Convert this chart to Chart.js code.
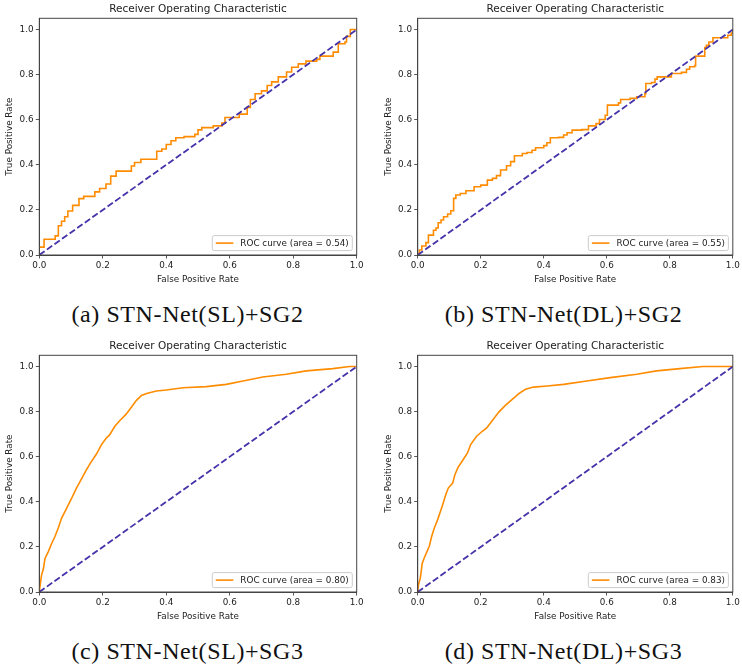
<!DOCTYPE html>
<html>
<head>
<meta charset="utf-8">
<script src="https://cdn.jsdelivr.net/npm/chart.js@4.4.0/dist/chart.umd.min.js"></script>
<style>
  html, body { margin: 0; padding: 0; background: #fff; }
  #page { position: relative; width: 742px; height: 670px; overflow: hidden; }
  .panel { position: absolute; }
  .caption {
    position: absolute; width: 371px; text-align: center;
    font-family: "Liberation Serif", serif; font-size: 24px; letter-spacing: 0.6px;
    line-height: 24px; color: #111;
  }
</style>
</head>
<body>
<div id="page">
  <canvas id="rocA" class="panel" width="371" height="290" style="left:0;top:0"></canvas>
  <canvas id="rocB" class="panel" width="371" height="290" style="left:371px;top:0"></canvas>
  <canvas id="rocC" class="panel" width="371" height="290" style="left:0;top:337px"></canvas>
  <canvas id="rocD" class="panel" width="371" height="290" style="left:371px;top:337px"></canvas>
  <div class="caption" style="left:2px;top:302px">(a) STN-Net(SL)+SG2</div>
  <div class="caption" style="left:378px;top:302px">(b) STN-Net(DL)+SG2</div>
  <div class="caption" style="left:2px;top:639px">(c) STN-Net(SL)+SG3</div>
  <div class="caption" style="left:378px;top:639px">(d) STN-Net(DL)+SG3</div>
</div>
<script>
// ROC points (false positive rate / true positive rate)
const fprA = [0, 0.015, 0.05, 0.06, 0.07, 0.08, 0.09, 0.105, 0.125, 0.14, 0.175, 0.19, 0.21, 0.225, 0.242,
  0.29, 0.30, 0.32, 0.37, 0.386, 0.40, 0.415, 0.43, 0.456, 0.49, 0.50, 0.512, 0.548, 0.575, 0.585, 0.63,
  0.655, 0.665, 0.68, 0.70, 0.718, 0.732, 0.753, 0.779, 0.795, 0.816, 0.84, 0.874, 0.884, 0.926, 0.942,
  0.963, 0.968, 0.98, 1.0];
const tprA = [0.035, 0.07, 0.085, 0.13, 0.15, 0.17, 0.195, 0.22, 0.25, 0.26, 0.28, 0.295, 0.315, 0.35, 0.372,
  0.395, 0.41, 0.425, 0.46, 0.47, 0.49, 0.507, 0.52, 0.525, 0.535, 0.555, 0.565, 0.573, 0.585, 0.61, 0.625,
  0.655, 0.69, 0.715, 0.728, 0.752, 0.768, 0.79, 0.812, 0.833, 0.848, 0.86, 0.868, 0.882, 0.9, 0.937,
  0.945, 0.97, 1.0, 1.0];

const fprB = [0, 0.005, 0.013, 0.026, 0.034, 0.05, 0.058, 0.065, 0.074, 0.082, 0.095, 0.105, 0.114, 0.121,
  0.135, 0.153, 0.179, 0.2, 0.221, 0.237, 0.25, 0.263, 0.282, 0.295, 0.307, 0.332, 0.347, 0.363, 0.374,
  0.4, 0.41, 0.421, 0.447, 0.463, 0.474, 0.49, 0.521, 0.542, 0.566, 0.577, 0.595, 0.602, 0.637, 0.644,
  0.674, 0.695, 0.721, 0.724, 0.742, 0.753, 0.76, 0.805, 0.837, 0.853, 0.863, 0.879, 0.882, 0.911, 0.916,
  0.924, 0.937, 0.984, 0.995, 1.0];
const tprB = [0, 0.022, 0.04, 0.055, 0.088, 0.11, 0.12, 0.143, 0.155, 0.17, 0.182, 0.196, 0.251, 0.266,
  0.273, 0.285, 0.303, 0.31, 0.332, 0.34, 0.352, 0.377, 0.396, 0.414, 0.44, 0.45, 0.455, 0.465, 0.476,
  0.485, 0.498, 0.52, 0.522, 0.532, 0.542, 0.554, 0.556, 0.573, 0.583, 0.601, 0.62, 0.665, 0.675, 0.69,
  0.695, 0.702, 0.715, 0.761, 0.765, 0.78, 0.79, 0.805, 0.81, 0.824, 0.835, 0.84, 0.882, 0.92, 0.93,
  0.945, 0.964, 0.975, 0.985, 1.0];

const fprC = [0, 0.004, 0.007, 0.013, 0.018, 0.028, 0.039, 0.049, 0.06, 0.07, 0.086, 0.102, 0.117, 0.133,
  0.147, 0.161, 0.18, 0.196, 0.21, 0.222, 0.238, 0.254, 0.273, 0.29, 0.306, 0.322, 0.338, 0.369, 0.4,
  0.453, 0.526, 0.589, 0.642, 0.704, 0.778, 0.841, 0.925, 0.977, 1.0];
const tprC = [0, 0.045, 0.074, 0.104, 0.149, 0.178, 0.215, 0.245, 0.285, 0.327, 0.371, 0.416, 0.461, 0.502,
  0.538, 0.572, 0.612, 0.654, 0.681, 0.698, 0.735, 0.761, 0.788, 0.82, 0.85, 0.872, 0.881, 0.892, 0.896,
  0.906, 0.911, 0.921, 0.936, 0.954, 0.966, 0.981, 0.991, 1.0, 1.0];

const fprD = [0, 0.003, 0.008, 0.011, 0.014, 0.021, 0.029, 0.037, 0.044, 0.053, 0.063, 0.072, 0.079, 0.089,
  0.097, 0.111, 0.118, 0.128, 0.142, 0.158, 0.168, 0.187, 0.205, 0.219, 0.237, 0.258, 0.279, 0.3, 0.321,
  0.342, 0.368, 0.411, 0.463, 0.537, 0.611, 0.695, 0.758, 0.832, 0.905, 1.0];
const tprD = [0, 0.037, 0.06, 0.089, 0.126, 0.152, 0.178, 0.204, 0.245, 0.285, 0.32, 0.357, 0.386, 0.431,
  0.461, 0.483, 0.52, 0.553, 0.582, 0.617, 0.654, 0.691, 0.713, 0.728, 0.761, 0.799, 0.829, 0.854, 0.88,
  0.899, 0.909, 0.914, 0.921, 0.936, 0.951, 0.966, 0.981, 0.991, 1.0, 1.0];

const chanceFpr = [0, 1];
const chanceTpr = [0, 1];
const tickVals = [0, 0.2, 0.4, 0.6, 0.8, 1.0];
const aucLabels = ['ROC curve (area = 0.54)', 'ROC curve (area = 0.55)',
  'ROC curve (area = 0.80)', 'ROC curve (area = 0.83)'];

const FONT = '"DejaVu Sans", sans-serif';
const TEXT = '#222';
const SPINE = '#444';
const ORANGE = '#ff8c00';
const NAVY = '#4433aa';
const FS = 8.8;
const LW = 1.6;

const toPoints = (xs, ys) => xs.map((x, i) => ({x: x, y: ys[i]}));

// top and right spines (left/bottom come from the axis borders)
const framePlugin = {
    id: 'frame',
    afterDatasetsDraw(chart) {
        const {ctx, chartArea: a} = chart;
        ctx.save();
        ctx.strokeStyle = SPINE;
        ctx.lineWidth = 1;
        ctx.strokeRect(a.left, a.top, a.right - a.left, a.bottom - a.top);
        ctx.restore();
    }
};

// matplotlib style legend in the lower right corner of the axes
const rocLegend = {
    id: 'rocLegend',
    afterDraw(chart, args, opts) {
        const {ctx, chartArea: a} = chart;
        ctx.save();
        ctx.font = FS + 'px ' + FONT;
        const tw = ctx.measureText(opts.text).width;
        const pad = 3.5, handle = 17.6, gap = 7;
        const w = pad + handle + gap + tw + pad, h = 15;
        const x0 = a.right - 4.4 - w, y0 = a.bottom - 4.4 - h;
        ctx.beginPath();
        ctx.roundRect(x0, y0, w, h, 2);
        ctx.fillStyle = 'rgba(255,255,255,0.8)';
        ctx.fill();
        ctx.strokeStyle = '#cccccc';
        ctx.lineWidth = 1;
        ctx.stroke();
        const cy = y0 + h / 2;
        ctx.beginPath();
        ctx.moveTo(x0 + pad, cy);
        ctx.lineTo(x0 + pad + handle, cy);
        ctx.strokeStyle = ORANGE;
        ctx.lineWidth = LW;
        ctx.stroke();
        ctx.fillStyle = TEXT;
        ctx.textBaseline = 'middle';
        ctx.textAlign = 'left';
        ctx.fillText(opts.text, x0 + pad + handle + gap, cy + 0.5);
        ctx.restore();
    }
};

function axis(min, max, title, titlePad, fit) {
    return {
        type: 'linear', min: min, max: max,
        afterBuildTicks: (s) => { s.ticks = tickVals.map(v => ({value: v})); },
        afterFit: fit,
        ticks: {
            callback: (v) => Number(v).toFixed(1), autoSkip: false, maxRotation: 0,
            color: TEXT, font: {family: FONT, size: FS}, padding: 2.2
        },
        grid: {drawOnChartArea: false, drawTicks: true, tickLength: 3.5, tickColor: SPINE, tickWidth: 0.9},
        border: {display: true, color: SPINE, width: 1},
        title: {display: true, text: title, color: TEXT, font: {family: FONT, size: FS}, padding: titlePad}
    };
}

function makeRoc(id, fpr, tpr, label, stepped, padLeft, padRight) {
    return new Chart(document.getElementById(id), {
        type: 'line',
        data: {
            datasets: [
                {
                    label: 'chance', data: toPoints(chanceFpr, chanceTpr),
                    borderColor: NAVY, borderWidth: 1.8, borderDash: [6.5, 2.8],
                    pointRadius: 0, fill: false
                },
                {
                    label: label, data: toPoints(fpr, tpr),
                    borderColor: ORANGE, borderWidth: LW, pointRadius: 0, fill: false,
                    stepped: stepped ? 'before' : false
                }
            ]
        },
        options: {
            responsive: false, animation: false, events: [],
            layout: {padding: {left: padLeft, right: padRight, top: 0, bottom: 0}},
            plugins: {
                legend: {display: false},
                tooltip: {enabled: false},
                title: {
                    display: true, text: 'Receiver Operating Characteristic', fullSize: false,
                    color: TEXT, font: {family: FONT, size: 10.5, weight: 'normal', lineHeight: 1.2},
                    padding: {top: 2.7, bottom: 3}
                },
                rocLegend: {text: label}
            },
            scales: {
                x: axis(0, 1, 'False Positive Rate', {top: 0, bottom: 5.3}, (s) => { s.height = 35; }),
                y: axis(0, 1.05, 'True Positive Rate', {top: 4.7, bottom: 0}, (s) => { s.width = 39.3; })
            }
        },
        plugins: [framePlugin, rocLegend]
    });
}

makeRoc('rocA', fprA, tprA, aucLabels[0], true, 0, 14.3);
makeRoc('rocB', fprB, tprB, aucLabels[1], true, 7.4, 8);
makeRoc('rocC', fprC, tprC, aucLabels[2], false, 0, 14.3);
makeRoc('rocD', fprD, tprD, aucLabels[3], false, 7.4, 8);
</script>
</body>
</html>
